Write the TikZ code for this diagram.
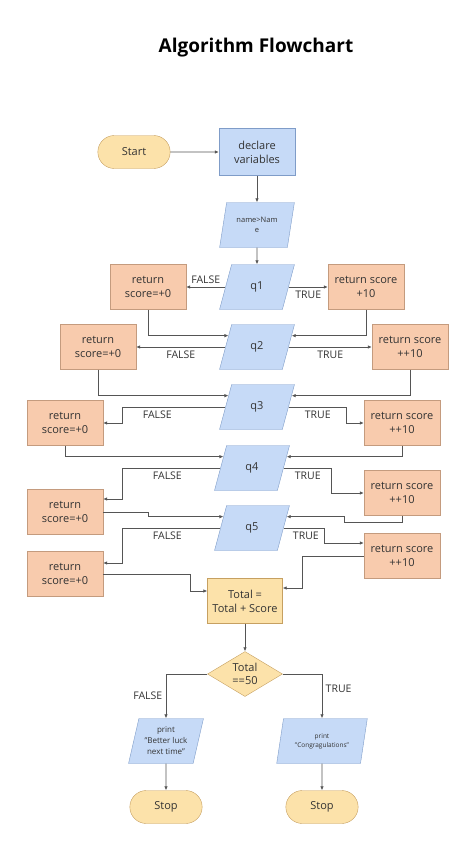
\documentclass[tikz,border=0pt]{standalone}
\usepackage{fontspec}
\setmainfont{Open Sans}
\usetikzlibrary{shapes.geometric,shapes.misc,arrows.meta,calc}
\definecolor{bfill}{HTML}{C6DAF7}
\definecolor{bline}{HTML}{7F9CC8}
\definecolor{ofill}{HTML}{F8CBAD}
\definecolor{oline}{HTML}{C49B7E}
\definecolor{yfill}{HTML}{FCE2AA}
\definecolor{yline}{HTML}{C6A061}
\definecolor{lgray}{HTML}{555555}
\definecolor{tgray}{HTML}{333333}

\begin{document}
\begin{tikzpicture}[x=1pt, y=-1pt,
  term/.style={rounded rectangle, draw=yline, fill=yfill, minimum width=79pt, minimum height=33pt, text=tgray, font=\fontsize{11}{13}\selectfont},
  proc/.style={rectangle, draw=bline, fill=bfill, minimum width=76pt, minimum height=47pt, align=center, text=tgray, font=\fontsize{11}{14}\selectfont},
  io/.style={trapezium, trapezium left angle=74, trapezium right angle=106, trapezium stretches=true, draw=bline, fill=bfill, minimum width=75pt, minimum height=45pt, inner sep=1pt, align=center, text=tgray, font=\fontsize{11}{14}\selectfont},
  fbox/.style={rectangle, draw=oline, fill=ofill, minimum width=76pt, minimum height=45pt, align=center, text=tgray, font=\fontsize{11}{14}\selectfont},
  tot/.style={rectangle, draw=yline, fill=yfill, minimum width=75pt, minimum height=45pt, align=center, text=tgray, font=\fontsize{11}{14}\selectfont},
  dec/.style={diamond, aspect=1.67, inner sep=0pt, draw=yline, fill=yfill, minimum width=75pt, minimum height=45pt, align=center, text=tgray, font=\fontsize{11}{13}\selectfont},
  e/.style={draw=lgray, line width=0.75pt, -{Latex[length=4pt,width=3.5pt]}},
  lbl/.style={text=tgray, font=\fontsize{10.5}{12}\selectfont}
]
\useasboundingbox (0,0) rectangle (474,851);

\node[font=\bfseries\fontsize{19}{23}\selectfont] (title) at (256,48) {Algorithm Flowchart};

\node[term] (start) at (134,152) {Start};
\node[proc] (decl) at (257,152) {declare\\variables};
\node[io, font=\fontsize{7.5}{10}\selectfont] (nm) at (257,225) {name>Nam\\e};

% questions
\node[io] (q1) at (257,287) {q1};
\node[io] (q2) at (257,347) {q2};
\node[io] (q3) at (257,407) {q3};
\node[io] (q4) at (252,468) {q4};
\node[io] (q5) at (252,528) {q5};

% false side
\node[fbox] (f1) at (148,287) {return\\score=+0};
\node[fbox] (f2) at (98,347) {return\\score=+0};
\node[fbox] (f3) at (65,423) {return\\score=+0};
\node[fbox] (f4) at (65,512) {return\\score=+0};
\node[fbox] (f5) at (65,574) {return\\score=+0};

% true side
\node[fbox] (t1) at (366,287) {return score\\+10};
\node[fbox] (t2) at (410,347) {return score\\++10};
\node[fbox] (t3) at (402,423) {return score\\++10};
\node[fbox] (t4) at (402,493) {return score\\++10};
\node[fbox] (t5) at (402,556) {return score\\++10};

\node[tot] (total) at (245,601) {Total =\\Total + Score};
\node[dec] (chk) at (245,674) {Total\\==50};
\node[io, font=\fontsize{8}{11}\selectfont] (pbad) at (166,741) {print\\"Better luck\\next time"};
\node[io, minimum width=91pt, font=\fontsize{6.5}{9}\selectfont] (pgood) at (322,741) {print\\"Congragulations"};
\node[term] (stopl) at (166,807) {Stop};
\node[term] (stopr) at (322,807) {Stop};

\draw[e] (start) -- (decl);
\draw[e] (decl) -- (nm);
\draw[e] (nm) -- (q1);

% q1
\draw[e] (q1.left side) -- node[lbl, above] {FALSE} (f1.east);
\draw[e] (q1.right side) -- node[lbl, below] {TRUE} (t1.west);
\draw[e] (f1.south) |- ($(q2.left side)!.5!(q2.top left corner)$);
\draw[e] (t1.south) |- ($(q2.right side)!.5!(q2.top right corner)$);

% q2
\draw[e] (q2.left side) -- node[lbl, below] {FALSE} (f2.east);
\draw[e] (q2.right side) -- node[lbl, below] {TRUE} (t2.west);
\draw[e] (f2.south) |- ($(q3.left side)!.5!(q3.top left corner)$);
\draw[e] (t2.south) |- ($(q3.right side)!.5!(q3.top right corner)$);

% q3
\draw[e] (q3.left side) -| node[lbl, pos=.33, below] {FALSE} ([xshift=19pt]f3.east) -- (f3.east);
\draw[e] (q3.right side) -| node[lbl, pos=.25, below] {TRUE} ([xshift=-17pt]t3.west) -- (t3.west);
\draw[e] (f3.south) |- ($(q4.left side)!.5!(q4.top left corner)$);
\draw[e] (t3.south) |- ($(q4.right side)!.5!(q4.top right corner)$);

% q4
\draw[e] (q4.left side) -| node[lbl, pos=.27, below] {FALSE} ([xshift=19pt,yshift=13pt]f4.east) -- ([yshift=13pt]f4.east);
\draw[e] (q4.right side) -| node[lbl, pos=.25, below] {TRUE} ([xshift=-32pt]t4.west) -- (t4.west);
\draw[e] (f4.east) -- ++(45,0) |- ($(q5.left side)!.5!(q5.top left corner)$);
\draw[e] (t4.south) -- ++(0,7) -- ++(-58,0) |- ($(q5.right side)!.5!(q5.top right corner)$);

% q5
\draw[e] (q5.left side) -| node[lbl, pos=.27, below] {FALSE} ([xshift=19pt,yshift=11pt]f5.east) -- ([yshift=11pt]f5.east);
\draw[e] (q5.right side) -| node[lbl, pos=.27, below] {TRUE} ([xshift=-39pt,yshift=13pt]t5.west) -- ([yshift=13pt]t5.west);
\draw[e] (f5.east) -- ++(87,0) |- ([yshift=10pt]total.west);
\draw[e] (t5.west) -- ++(-61,0) |- ([yshift=13pt]total.east);

% result
\draw[e] (total) -- (chk);
\draw[e] (chk.west) -| node[lbl, pos=.75, left] {FALSE} (pbad.north);
\draw[e] (chk.east) -| node[lbl, pos=.67, right] {TRUE} (pgood.north);
\draw[e] (pbad) -- (stopl);
\draw[e] (pgood) -- (stopr);
\end{tikzpicture}
\end{document}
